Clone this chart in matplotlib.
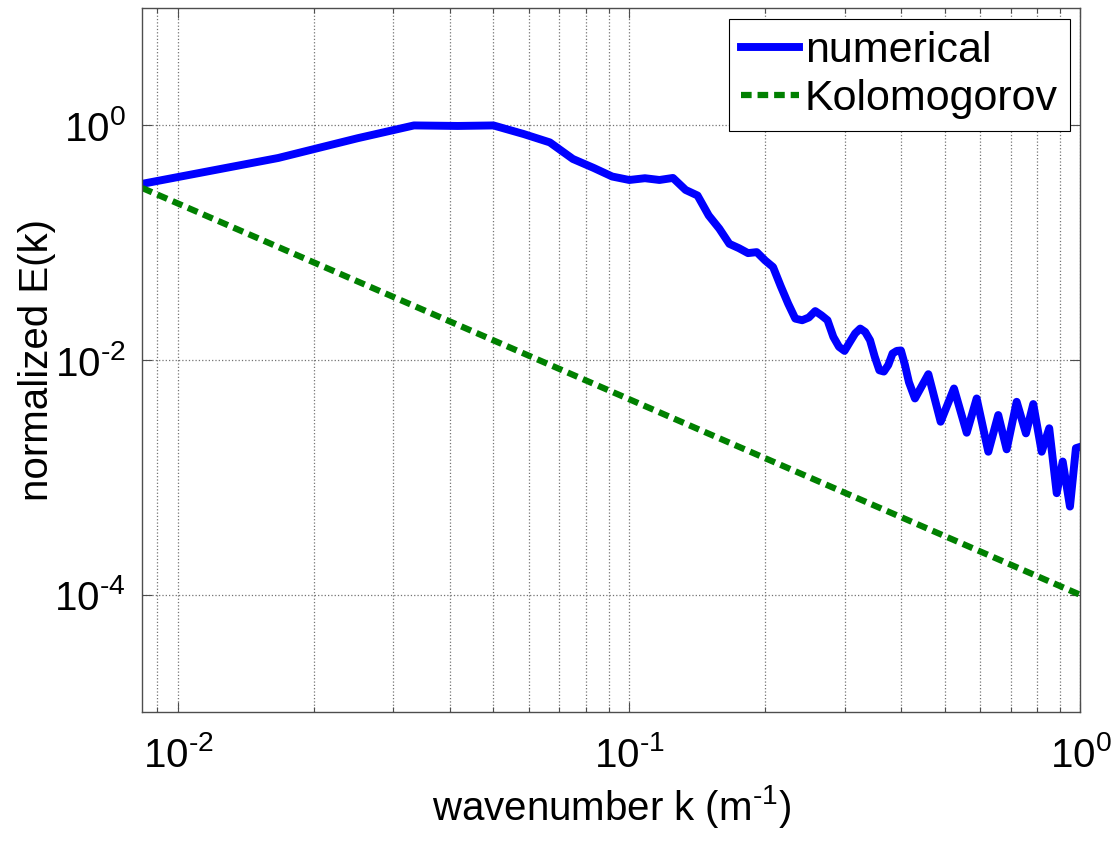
import matplotlib
matplotlib.use("Agg")
import numpy as np
import matplotlib.pyplot as plt
from matplotlib.ticker import NullFormatter, NullLocator, FuncFormatter

plt.rcParams['font.family'] = ['Liberation Sans', 'DejaVu Sans']
plt.rcParams['mathtext.fontset'] = 'custom'
plt.rcParams['mathtext.rm'] = 'Liberation Sans'
plt.rcParams['mathtext.default'] = 'regular'

# energy spectrum from the simulation (k in 1/m)
k_num = [0.00833, 0.01667, 0.025, 0.03333, 0.04167, 0.05, 0.05833, 0.06667,
         0.075, 0.08333, 0.09167, 0.1, 0.10833, 0.11667, 0.125, 0.13333,
         0.14167, 0.15, 0.15833, 0.16667, 0.175, 0.18333, 0.19167, 0.2,
         0.20833, 0.21667, 0.225, 0.23333, 0.24167, 0.25, 0.25833, 0.26667,
         0.275, 0.28333, 0.29167, 0.3, 0.30833, 0.31667, 0.325, 0.33333,
         0.34167, 0.35, 0.35833, 0.36667, 0.375, 0.38333, 0.39167, 0.4,
         0.40833, 0.41667, 0.4297, 0.4601, 0.4899, 0.5244, 0.5596, 0.5888,
         0.6248, 0.6573, 0.6861, 0.7221, 0.7571, 0.7859, 0.8204, 0.8526,
         0.8858, 0.9133, 0.9478, 0.977, 1.0]
e_num = [0.318, 0.528, 0.778, 1.0, 0.99, 1.0, 0.845, 0.717,
         0.518, 0.435, 0.367, 0.343, 0.355, 0.343, 0.357, 0.282,
         0.253, 0.171, 0.132, 0.098, 0.090, 0.0817, 0.0833, 0.0708,
         0.0621, 0.0426, 0.0303, 0.0226, 0.0219, 0.0231, 0.0262, 0.0241,
         0.0219, 0.0158, 0.0130, 0.0120, 0.0143, 0.0169, 0.0186, 0.0174,
         0.0148, 0.0107, 0.0082, 0.0080, 0.0091, 0.0114, 0.0120, 0.0121,
         0.0091, 0.0065, 0.00472, 0.0076, 0.00299, 0.00574, 0.00241, 0.00472,
         0.00166, 0.00341, 0.00174, 0.00442, 0.00238, 0.00423, 0.00166, 0.00263,
         0.000736, 0.00137, 0.000566, 0.00178, 0.00183]

# -5/3 reference line
k_kol = [0.00833, 1.0]
e_kol = [0.293, 1.0e-4]

labels = ['numerical', 'Kolomogorov']


def pow10(v, pos):
    # plain hyphen in the exponent instead of a math minus
    return r'$10^{\text{%d}}$' % int(round(np.log10(v)))


fig = plt.figure(figsize=(11.17, 8.48), dpi=100)
ax = fig.add_axes([0.1274, 0.16, 0.8399, 0.8305])

ax.loglog(k_num, e_num, color='blue', lw=5.7, label=labels[0])
ax.loglog(k_kol, e_kol, color='#008000', lw=4.5, dashes=(1.7, 0.95), label=labels[1])

ax.set_xlim(1 / 120, 1)
ax.set_ylim(1e-5, 1e1)
ax.set_yticks([1e-4, 1e-2, 1e0])
ax.yaxis.set_minor_locator(NullLocator())
ax.xaxis.set_minor_formatter(NullFormatter())
ax.xaxis.set_major_formatter(FuncFormatter(pow10))
ax.yaxis.set_major_formatter(FuncFormatter(pow10))

ax.grid(True, which='both', linestyle=':', color='0.45', linewidth=0.9)
ax.tick_params(which='both', direction='in', top=True, right=True,
               color='0.3', width=0.8, labelsize=29)
ax.tick_params(which='major', length=7)
ax.tick_params(which='minor', length=3.5)
ax.tick_params(axis='x', pad=17)
ax.tick_params(axis='y', pad=12)
for s in ax.spines.values():
    s.set_color('0.3')
    s.set_linewidth(1.0)

ax.set_xlabel('wavenumber k (m$^{\\text{-1}}$)', fontsize=29, labelpad=6)
ax.set_ylabel('normalized E(k)', fontsize=29, labelpad=-1)

leg = ax.legend(loc='upper right', fontsize=31, fancybox=False, framealpha=1,
                edgecolor='black', borderpad=0.28, labelspacing=0.19,
                handlelength=1.35, handletextpad=0.12, borderaxespad=0.25)
leg.get_frame().set_linewidth(0.8)

fig.savefig('out.png', dpi=100)
